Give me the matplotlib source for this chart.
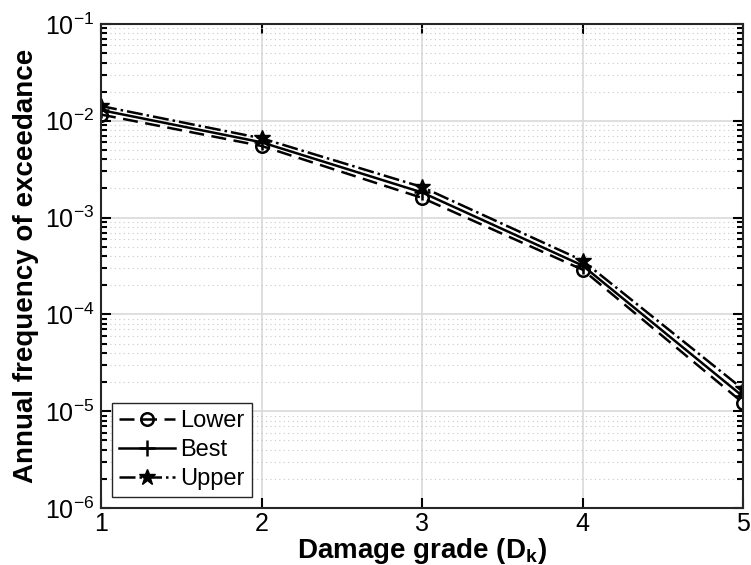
import numpy as np
import matplotlib.pyplot as plt
from matplotlib.ticker import LogLocator, NullFormatter, FuncFormatter

plt.rcParams['font.family'] = ['Liberation Sans', 'DejaVu Sans']
plt.rcParams['mathtext.fontset'] = 'custom'
plt.rcParams['mathtext.rm'] = 'Liberation Sans'
plt.rcParams['mathtext.bf'] = 'Liberation Sans:bold'

# damage grade and annual frequency of exceedance
grade = [1, 2, 3, 4, 5]
lower = [0.0116, 0.0055, 0.0016, 2.9e-4, 1.22e-5]
best = [0.0129, 0.0060, 0.00182, 3.2e-4, 1.42e-5]
upper = [0.0142, 0.0066, 0.00207, 3.6e-4, 1.69e-5]

fig = plt.figure(figsize=(7.51, 5.65), dpi=100)
ax = fig.add_axes([101/751, 1 - 508/565, 642/751, 484/565])

ax.semilogy(grade, lower, 'k--o', lw=1.8, ms=9, mfc='none', mew=1.8,
            dashes=(6, 3), label='Lower')
ax.semilogy(grade, best, 'k-+', lw=1.8, ms=12, mew=1.8, label='Best')
ax.semilogy(grade, upper, 'k-.*', lw=1.8, ms=12, label='Upper')

ax.set_xlim(1, 5)
ax.set_ylim(1e-6, 1e-1)
ax.set_xticks(grade)
ax.yaxis.set_major_locator(LogLocator(base=10, numticks=10))
ax.yaxis.set_major_formatter(FuncFormatter(lambda v, p: '10$^{%d}$' % round(np.log10(v))))
ax.yaxis.set_minor_locator(LogLocator(base=10, subs=np.arange(2, 10), numticks=10))
ax.yaxis.set_minor_formatter(NullFormatter())

ax.grid(True, which='major', color='#d9d9d9', lw=1.2)
ax.grid(True, which='minor', axis='y', color='#c8c8c8', lw=0.8, ls=(0, (1, 3)))
ax.set_axisbelow(True)

ax.tick_params(which='both', direction='in', top=True, right=True, labelsize=18, width=1.5)
ax.tick_params(which='major', length=7)
ax.tick_params(which='minor', length=4)
ax.tick_params(axis='x', pad=3)
ax.tick_params(axis='y', pad=5)
for s in ax.spines.values():
    s.set_linewidth(1.5)
    s.set_color('#262626')

ax.set_xlabel('Damage grade (D$_\\mathbf{k}$)', fontsize=20, fontweight='bold', labelpad=0)
ax.set_ylabel('Annual frequency of exceedance', fontsize=20, fontweight='bold', labelpad=4)

leg = ax.legend(loc='lower left', fontsize=17, fancybox=False, framealpha=1,
                edgecolor='#262626', handlelength=2.4, handletextpad=0.2,
                borderpad=0.3, labelspacing=0.3, borderaxespad=0.45)
leg.get_frame().set_linewidth(1.0)

fig.savefig('out.png', dpi=100)
